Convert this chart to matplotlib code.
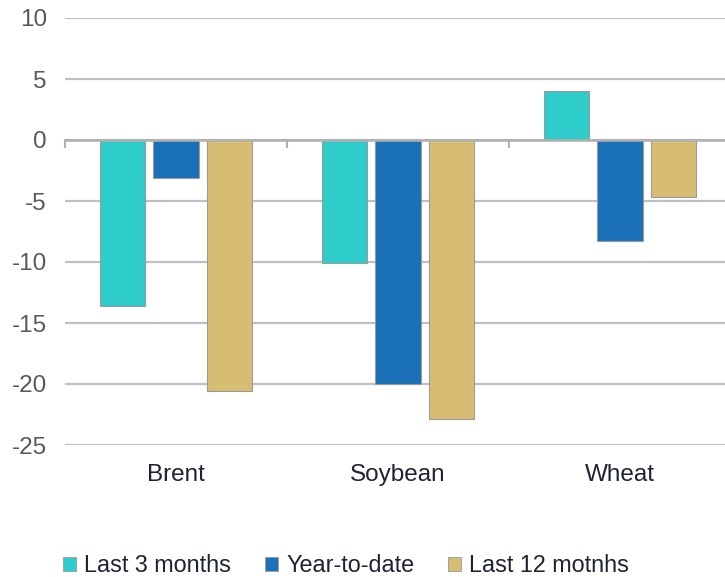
import matplotlib
matplotlib.use("Agg")
import matplotlib.pyplot as plt
import numpy as np
from matplotlib.patches import Patch

categories = ["Brent", "Soybean", "Wheat"]
series_names = ["Last 3 months", "Year-to-date", "Last 12 motnhs"]
last3 = [-13.6, -10.1, 4.0]
ytd = [-3.1, -20.0, -8.3]
last12 = [-20.6, -22.9, -4.7]
yticks = [-25, -20, -15, -10, -5, 0, 5, 10]

colors = ["#2ECCCB", "#1A71B8", "#D6BD72"]
plt.rcParams['font.family'] = ['Liberation Sans', 'DejaVu Sans']

fig = plt.figure(figsize=(7.25, 5.77), dpi=100)
ax = fig.add_axes([65/725, 1-445/577, 1-65/725, (445-18)/577])

x = np.arange(len(categories))
w = 0.203
step = 0.243
for i, (vals, c) in enumerate(zip([last3, ytd, last12], colors)):
    ax.bar(x + (i-1)*step, vals, width=w, color=c, edgecolor="#9A9A9A", linewidth=0.8, zorder=3)

ax.set_ylim(-25, 10)
ax.set_xlim(-0.5, -0.5 + 660/222)
ax.set_yticks(yticks)
ax.set_yticklabels([str(t) for t in yticks])
ax.yaxis.grid(True, color="#C0C0C0", linewidth=1.6, zorder=0)
ax.axhline(0, color="#B0B0B0", linewidth=1.8, zorder=4)
for b in [-0.5, 0.5, 1.5, 2.5]:
    ax.plot([b, b], [0, -0.6], color="#B0B0B0", linewidth=1.5, zorder=4, clip_on=False)

for s in ax.spines.values():
    s.set_visible(False)
ax.tick_params(axis='y', length=0, pad=13, labelsize=17.5, labelcolor="#595959")
ax.tick_params(axis='x', length=0, pad=14, labelsize=17.5, labelcolor="#1F2233")
ax.set_xticks(x)
ax.set_xticklabels(categories)

handles = [Patch(facecolor=c, edgecolor="#9A9A9A", linewidth=0.6) for c in colors]
fig.legend(handles, series_names, loc="center", bbox_to_anchor=(0.4775, 1-566/577),
           ncol=3, frameon=False, fontsize=16.8, handlelength=0.55, handleheight=0.55,
           handletextpad=0.35, columnspacing=1.45, labelcolor="#1F2233")

fig.savefig("out.png", dpi=100)
